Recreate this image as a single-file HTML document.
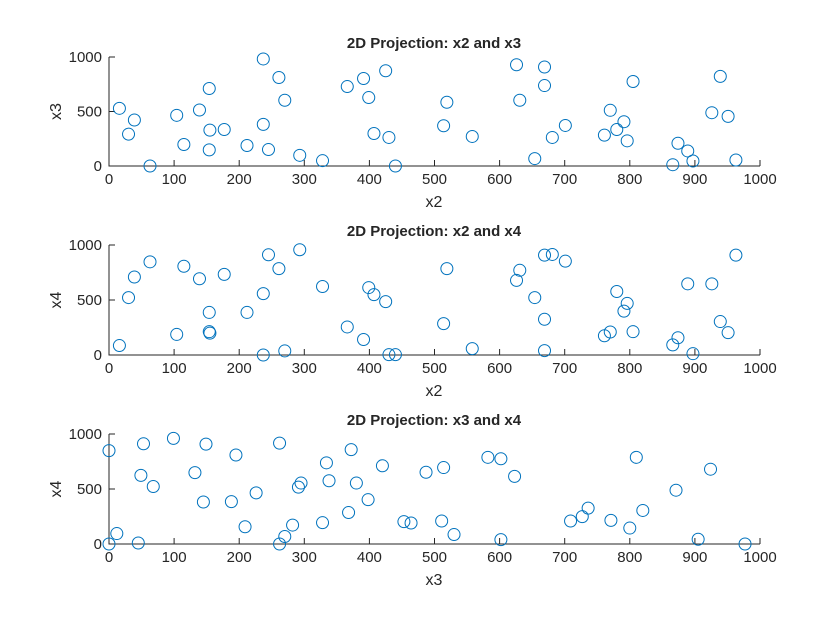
<!DOCTYPE html>
<html><head><meta charset="utf-8"><style>
body{margin:0;background:#fff}
svg text{font-family:"Liberation Sans",Arial,sans-serif;fill:#262626}
</style></head><body>
<svg id="fig" width="840" height="630" xmlns="http://www.w3.org/2000/svg"></svg>
<script>
const xTicks=[0,100,200,300,400,500,600,700,800,900,1000];
const yTicks=[0,500,1000];
const titles=["2D Projection: x2 and x3","2D Projection: x2 and x4","2D Projection: x3 and x4"];
const xLabels=["x2","x2","x3"];
const yLabels=["x3","x4","x4"];
const p1x=[16,39,30,63,104,115,139,154,155,154,177,212,237,237,245,261,270,293,328,366,391,399,425,407,430,440,519,514,558,626,631,669,669,654,681,701,770,761,780,791,796,805,874,889,897,866,939,926,951,963];
const p1y=[529,422,292,0,465,197,514,711,329,148,335,188,982,382,151,812,603,98,49,729,803,628,874,298,262,0,585,369,271,929,603,908,738,68,262,372,511,283,335,406,231,775,209,138,46,12,822,489,455,55];
const p2x=[16,30,39,63,104,115,139,154,154,155,177,212,237,245,261,237,270,293,328,366,391,399,407,425,430,440,519,514,558,626,631,654,669,669,669,681,701,761,770,780,791,796,805,866,874,897,889,926,939,951,963];
const p2y=[86,522,709,847,187,807,693,387,212,199,733,387,558,911,785,0,37,957,623,255,141,613,549,485,3,3,785,285,58,678,770,522,908,325,40,914,853,175,209,577,399,469,212,92,157,12,647,647,304,203,908];
const p3x=[0,12,0,45,49,53,68,99,132,145,149,188,195,209,226,262,262,270,282,291,295,328,334,338,368,372,380,398,420,453,464,487,511,514,530,582,602,602,623,709,727,736,771,800,810,820,871,905,924,977];
const p3y=[849,95,0,9,624,911,523,960,649,382,908,385,809,157,465,917,0,68,172,517,554,194,738,575,286,858,554,403,711,203,191,652,209,695,86,788,775,40,615,209,249,326,215,145,788,305,489,43,680,0];
const seriesX=[p1x,p2x,p3x], seriesY=[p1y,p2y,p3y];
const NS="http://www.w3.org/2000/svg";
const svg=document.getElementById('fig');
const L=109,R=760;
const tops=[57,245,434], bots=[166,355,544];
function mk(t,a,parent){const e=document.createElementNS(NS,t);for(const k in a)e.setAttribute(k,a[k]);(parent||svg).appendChild(e);return e;}
for(let s=0;s<3;s++){
  const T=tops[s],B=bots[s];
  const sx=v=>L+(v/1000)*(R-L);
  const sy=v=>B-(v/1000)*(B-T);
  const g=mk('g',{});
  
  
  const ax=mk('path',{d:`M${L} ${T}V${B}H${R}`,fill:'none',stroke:'#262626','stroke-width':1},g);
  
  
  xTicks.forEach(v=>{
    mk('line',{x1:sx(v),x2:sx(v),y1:B,y2:B-6,stroke:'#262626'},g);
    const t=mk('text',{x:sx(v),y:B+18,'text-anchor':'middle','font-size':15},g);t.textContent=v;
    
    
  });
  yTicks.forEach(v=>{
    mk('line',{x1:L,x2:L+6,y1:sy(v),y2:sy(v),stroke:'#262626'},g);
    const t=mk('text',{x:L-7,y:sy(v)+5,'text-anchor':'end','font-size':15},g);t.textContent=v;
    
    
  });
  const ti=mk('text',{x:434,y:T-9,'text-anchor':'middle','font-size':15,'font-weight':'bold'},g);ti.textContent=titles[s];
  
  
  const xl=mk('text',{x:434,y:B+41,'text-anchor':'middle','font-size':16},g);xl.textContent=xLabels[s];
  
  
  const yc=(T+B)/2;
  const yl=mk('text',{x:61,y:yc,'text-anchor':'middle','font-size':16,transform:`rotate(-90 61 ${yc})`},g);yl.textContent=yLabels[s];
  
  
  const X=seriesX[s],Y=seriesY[s];
  for(let i=0;i<X.length;i++){
    const c=mk('circle',{cx:sx(X[i]),cy:sy(Y[i]),r:6,fill:'none',stroke:'#0072BD','stroke-width':1},g);
    
    
  }
}
</script>
</body></html>
